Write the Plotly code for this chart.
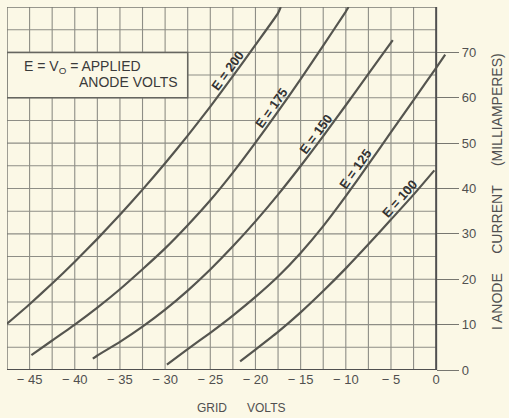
import numpy as np
import plotly.graph_objects as go

# ---- data ----
e200_v = [-47.5, -45, -42.5, -40, -37.5, -35, -32.5, -30, -27.5, -25, -22.5, -20, -17.5, -17.2]
e200_i = [10.2, 14.5, 19.05, 23.85, 28.9, 34.2, 39.75, 45.55, 51.65, 58.05, 64.75, 71.65, 78.65, 80.0]

e175_v = [-44.8, -42.5, -40, -37.5, -35, -32.5, -30, -27.5, -25, -22.5, -20, -17.5, -15, -12.5, -10, -9.7]
e175_i = [3.3, 6.5, 10.0, 13.75, 17.8, 22.2, 26.8, 31.9, 37.4, 43.5, 50.1, 57.0, 64.1, 71.5, 79.0, 80.0]

e150_v = [-38.0, -37.5, -35, -32.5, -30, -27.5, -25, -22.5, -20, -17.5, -15, -12.5, -10, -7.5, -5, -4.8]
e150_i = [2.5, 3.2, 6.2, 9.55, 13.3, 17.5, 22.15, 27.25, 32.75, 38.65, 44.95, 51.55, 58.35, 65.25, 72.15, 72.7]

e125_v = [-29.8, -27.5, -25, -22.5, -20, -17.5, -15, -12.5, -10, -7.5, -5, -2.5, 0, 1.0]
e125_i = [1.2, 4.6, 8.2, 12.0, 16.1, 20.6, 25.8, 31.7, 38.3, 45.3, 52.4, 59.5, 66.6, 69.5]

e100_v = [-21.7, -20, -17.5, -15, -12.5, -10, -7.5, -5, -2.5, -0.2]
e100_i = [1.9, 4.5, 8.4, 12.7, 17.4, 22.4, 27.7, 33.15, 38.65, 44.0]

series_names = ["E = 200", "E = 175", "E = 150", "E = 125", "E = 100"]
series_v = [e200_v, e175_v, e150_v, e125_v, e100_v]
series_i = [e200_i, e175_i, e150_i, e125_i, e100_i]
label_v = [-22.4, -17.6, -12.7, -8.2, -3.4]

x_tick_vals = [-45, -40, -35, -30, -25, -20, -15, -10, -5, 0]
x_tick_text = ["\u2212 45", "\u2212 40", "\u2212 35", "\u2212 30", "\u2212 25", "\u2212 20", "\u2212 15", "\u2212 10", "\u2212 5", "0"]
y_tick_vals = [0, 10, 20, 30, 40, 50, 60, 70]
v_grid = [-45, -42.5, -40, -37.5, -35, -32.5, -30, -27.5, -25, -22.5, -20, -17.5, -15, -12.5, -10, -7.5, -5, -2.5]
i_grid = [5, 10, 15, 20, 25, 30, 35, 40, 45, 50, 55, 60, 65, 70, 75]

# ---- layout constants ----
BG = "#FBF8E6"
GRID = "#8e8e86"
INK = "#505050"
X_MIN, X_MAX = -47.5, 1.2
Y_MIN, Y_MAX = 0, 80
W, H = 509, 418
ML, MR, MT, MB = 7, 62, 7, 48
pw, ph = W - ML - MR, H - MT - MB
px_per_v = pw / (X_MAX - X_MIN)
px_per_i = ph / (Y_MAX - Y_MIN)
FONT = "Liberation Sans, Arial"
LABEL_OFFSET = 7.5  # px, label sits just above its curve

fig = go.Figure()
for name, v, i in zip(series_names, series_v, series_i):
    fig.add_trace(go.Scatter(x=v, y=i, mode="lines", name=name,
                             line=dict(color="#55554f", width=2.2, shape="spline", smoothing=0.5),
                             hoverinfo="skip", showlegend=False))

shapes = []
for v in v_grid:
    shapes.append(dict(type="line", x0=v, x1=v, y0=Y_MIN, y1=Y_MAX, layer="below",
                       line=dict(color=GRID, width=1.1)))
for i in i_grid:
    shapes.append(dict(type="line", x0=X_MIN, x1=0, y0=i, y1=i, layer="below",
                       line=dict(color=GRID, width=1.1)))
# borders
shapes.append(dict(type="line", x0=X_MIN, x1=X_MIN, y0=Y_MIN, y1=Y_MAX, layer="below",
                   line=dict(color="#777770", width=1.4)))
shapes.append(dict(type="line", x0=X_MIN, x1=0, y0=Y_MAX, y1=Y_MAX, layer="below",
                   line=dict(color="#777770", width=1.4)))
shapes.append(dict(type="line", x0=0, x1=0, y0=Y_MIN, y1=Y_MAX, layer="below",
                   line=dict(color="#505050", width=2)))
shapes.append(dict(type="line", x0=X_MIN, x1=0, y0=Y_MIN, y1=Y_MIN, layer="below",
                   line=dict(color="#505050", width=2)))
# legend box
shapes.append(dict(type="rect", x0=X_MIN, x1=-27.5, y0=60, y1=70, layer="below",
                   fillcolor=BG, line=dict(color="#666660", width=1.5)))

annotations = []
# curve labels
for name, v, i, lv in zip(series_names, series_v, series_i, label_v):
    li = float(np.interp(lv, v, i))
    slope = float(np.interp(lv, v, np.gradient(np.array(i), np.array(v))))
    theta = np.arctan(slope * px_per_i / px_per_v)
    annotations.append(dict(x=lv, y=li, text="<b>" + name + "</b>", showarrow=False,
                            textangle=-np.degrees(theta),
                            xshift=-LABEL_OFFSET * np.sin(theta), yshift=LABEL_OFFSET * np.cos(theta),
                            font=dict(family=FONT, size=13, color="#333333"),
                            xanchor="center", yanchor="middle"))
# box text
annotations.append(dict(x=X_MIN + (22 - ML) / px_per_v, y=(MT + ph - 67) / px_per_i,
                        text="E = V<sub>O</sub> = APPLIED", showarrow=False,
                        xanchor="left", yanchor="middle",
                        font=dict(family=FONT, size=14, color="#3a3a3a")))
annotations.append(dict(x=X_MIN + (180 - ML) / px_per_v, y=(MT + ph - 82) / px_per_i,
                        text="ANODE VOLTS", showarrow=False,
                        xanchor="right", yanchor="middle",
                        font=dict(family=FONT, size=14, color="#3a3a3a")))
# axis titles
annotations.append(dict(xref="paper", yref="paper", x=(241 - ML) / pw, y=(MT + ph - 408) / ph,
                        text="GRID      VOLTS", showarrow=False, xanchor="center", yanchor="middle",
                        font=dict(family=FONT, size=12, color=INK)))
annotations.append(dict(xref="paper", yref="paper", x=(497 - ML) / pw, y=(MT + ph - 191) / ph,
                        text="I ANODE     CURRENT     (MILLIAMPERES)", showarrow=False,
                        textangle=-90, xanchor="center", yanchor="middle",
                        font=dict(family=FONT, size=14, color=INK)))

fig.update_layout(
    width=W, height=H, margin=dict(l=ML, r=MR, t=MT, b=MB),
    paper_bgcolor=BG, plot_bgcolor=BG,
    shapes=shapes, annotations=annotations, showlegend=False,
    xaxis=dict(range=[X_MIN, X_MAX], showgrid=False, zeroline=False, showline=False,
               tickvals=x_tick_vals, ticktext=x_tick_text, ticks="",
               tickfont=dict(family=FONT, size=13, color=INK)),
    yaxis=dict(range=[Y_MIN, Y_MAX], showgrid=False, zeroline=False, showline=False,
               side="right", anchor="free", position=(0 - X_MIN) / (X_MAX - X_MIN),
               tickvals=y_tick_vals, ticks="outside", ticklen=22, tickcolor="#777770",
               tickfont=dict(family=FONT, size=13, color=INK)),
)

fig.write_html("out.html", config={"displayModeBar": False},
               post_script="document.body.style.margin='0';document.body.style.padding='0';"
                           "document.body.style.background='" + BG + "';"
                           "document.documentElement.style.background='" + BG + "';")
